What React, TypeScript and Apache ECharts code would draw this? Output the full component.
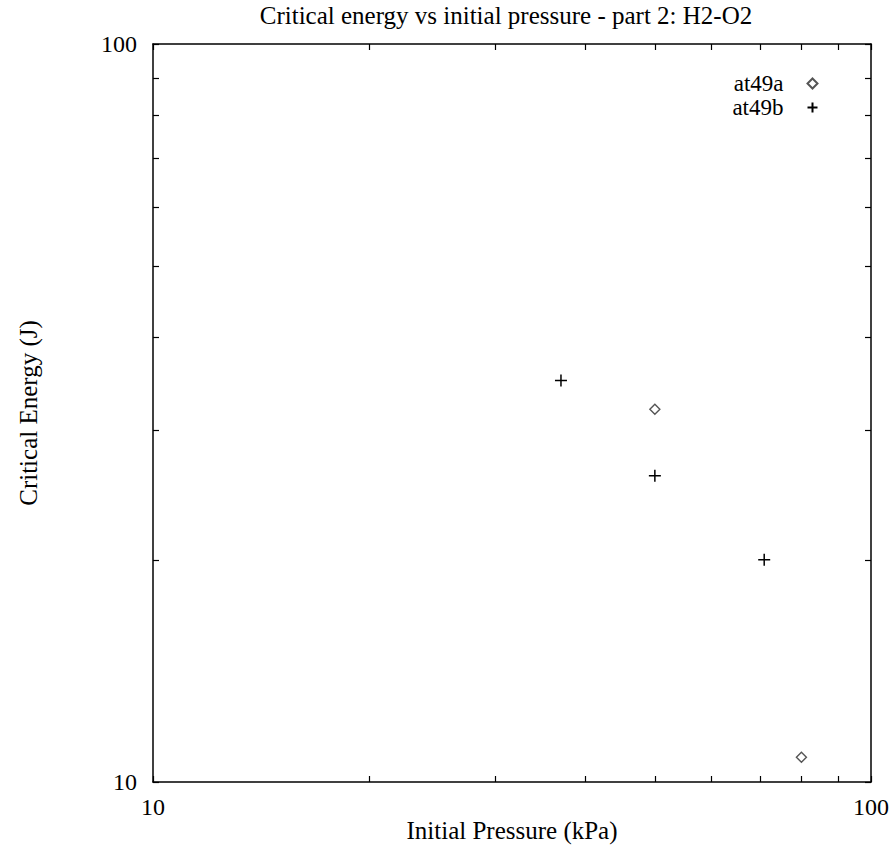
import React, { useEffect, useRef } from "react";
import * as echarts from "echarts";

const chartTitle = "Critical energy vs initial pressure - part 2: H2-O2";
const xAxisName = "Initial Pressure (kPa)";
const yAxisName = "Critical Energy (J)";

const seriesNames = ["at49a", "at49b"];
const at49aPressure = [50, 80];
const at49aEnergy = [32, 10.8];
const at49bPressure = [37, 50, 71];
const at49bEnergy = [35, 26, 20];

const tickValues = [10, 20, 30, 40, 50, 60, 70, 80, 90, 100];
const labelValues = [10, 100];

const FONT = "'Liberation Serif', 'Times New Roman', serif";
const FS = 24;
const FS_BIG = 25;

function pairs(xs: number[], ys: number[]) {
  return xs.map((x, i) => [x, ys[i]]);
}

export default function App() {
  const ref = useRef<HTMLDivElement>(null);
  useEffect(() => {
    if (!ref.current) return;
    const chart = echarts.init(ref.current, undefined, { renderer: "svg" });
    const axisBase = {
      type: "log" as const,
      logBase: 10,
      min: 10,
      max: 100,
      splitLine: { show: false },
      minorTick: { show: false },
      axisLine: { show: true, lineStyle: { color: "#000", width: 1.5 } },
      axisTick: {
        show: true,
        inside: true,
        length: 6,
        lineStyle: { color: "#000", width: 1.2 },
        customValues: tickValues,
      },
    };
    chart.setOption({
      animation: false,
      backgroundColor: "#fff",
      title: {
        text: chartTitle,
        left: 506,
        textAlign: "center",
        top: 3,
        padding: 0,
        textStyle: { fontFamily: FONT, fontSize: FS_BIG, fontWeight: "normal", color: "#000" },
      },
      grid: { left: 153, top: 44, width: 718, height: 738, outerBoundsMode: "none", containLabel: false },
      legend: {
        data: seriesNames,
        orient: "vertical",
        align: "right",
        right: 72,
        top: 72,
        padding: 0,
        itemWidth: 10,
        itemHeight: 10,
        itemGap: 1,
        textStyle: {
          fontFamily: FONT,
          fontSize: 23,
          color: "#000",
          lineHeight: 23,
          padding: [0, 19, 0, 0],
        },
      },
      xAxis: [
        {
          ...axisBase,
          position: "bottom",
          name: xAxisName,
          nameLocation: "middle",
          nameGap: 36,
          nameMoveOverlap: false,
          nameTextStyle: { fontFamily: FONT, fontSize: FS_BIG, color: "#000" },
          axisLabel: {
            show: true,
            customValues: labelValues,
            margin: 13,
            fontFamily: FONT,
            fontSize: FS,
            color: "#000",
          },
        },
        {
          ...axisBase,
          position: "top",
          axisLabel: { show: false },
        },
      ],
      yAxis: [
        {
          ...axisBase,
          position: "left",
          name: yAxisName,
          nameLocation: "middle",
          nameGap: 112,
          nameMoveOverlap: false,
          nameRotate: 90,
          nameTextStyle: { fontFamily: FONT, fontSize: FS_BIG, color: "#000" },
          axisLabel: {
            show: true,
            customValues: labelValues,
            margin: 16,
            fontFamily: FONT,
            fontSize: FS,
            color: "#000",
          },
        },
        {
          ...axisBase,
          position: "right",
          axisLabel: { show: false },
        },
      ],
      series: [
        {
          name: seriesNames[0],
          type: "scatter",
          symbol: "diamond",
          symbolSize: 10,
          itemStyle: { color: "#fff", borderColor: "#555", borderWidth: 1.4, opacity: 1 },
          data: pairs(at49aPressure, at49aEnergy),
        },
        {
          name: seriesNames[1],
          type: "scatter",
          symbol: "path://M5,0L5,10M0,5L10,5",
          symbolSize: 12,
          itemStyle: { color: "none", borderColor: "#000", borderWidth: 1.5, opacity: 1 },
          data: pairs(at49bPressure, at49bEnergy),
        },
      ],
    });
    return () => chart.dispose();
  }, []);
  return <div ref={ref} style={{ width: 892, height: 845, position: "absolute", left: 0, top: 0 }} />;
}
